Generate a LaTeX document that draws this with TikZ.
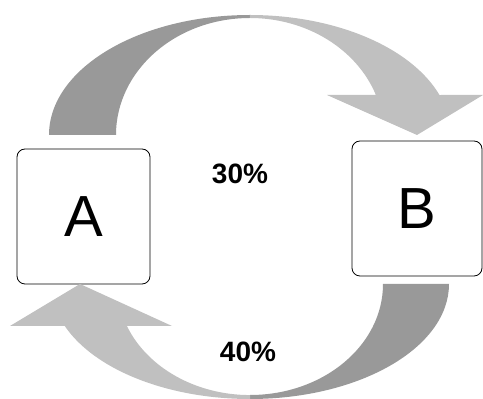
\documentclass[tikz,border=0pt]{standalone}
\usepackage{fontspec}
\setmainfont{Liberation Sans}
\usepackage{tikz}
\usetikzlibrary{calc}
\definecolor{bandDark}{RGB}{153,153,153}
\definecolor{bandLight}{RGB}{192,192,192}

\begin{document}
\begin{tikzpicture}[x=1pt, y=1pt,
        statebox/.style={draw=black, line width=0.8pt, fill=white, rounded corners=8pt,
            inner sep=0pt, font=\fontsize{58}{60}\selectfont},
        ratelabel/.style={font=\bfseries\fontsize{28}{30}\selectfont}]
        \useasboundingbox (0,0) rectangle (483,399);

        % states
        \node[statebox, minimum width=133pt, minimum height=135pt] (A) at (83.5,182.5) {A};
        \node[statebox, minimum width=130pt, minimum height=135pt] (B) at (417,190.5) {B};

        % A -> B, upper band
        \coordinate (tipB) at (417,264);
        \fill[bandDark] (49,264) arc[start angle=180, end angle=90, x radius=201, y radius=120]
            -- (250,381) arc[start angle=90, end angle=180, x radius=134, y radius=117] -- cycle;
        \fill[bandLight] (250,384) arc[start angle=90, end angle=19.47, x radius=201, y radius=120]
            -- (483,304) -- (tipB) -- (327,304) -- (375.9,304)
            arc[start angle=19.99, end angle=90, x radius=134, y radius=117] -- cycle;

        % B -> A, lower band
        \coordinate (tipA) at (80,115);
        \fill[bandDark] (449,115) arc[start angle=0, end angle=-90, x radius=199, y radius=115]
            -- (250,4) arc[start angle=-90, end angle=0, x radius=133, y radius=111] -- cycle;
        \fill[bandLight] (250,0) arc[start angle=-90, end angle=-158.6, x radius=199, y radius=115]
            -- (10,73) -- (tipA) -- (172,73) -- (126.9,73)
            arc[start angle=-157.8, end angle=-90, x radius=133, y radius=111] -- cycle;

        % rates
        \node[ratelabel] (pAB) at (240,225.5) {30\%};
        \node[ratelabel] (pBA) at (248,47.5) {40\%};
\end{tikzpicture}
\end{document}
